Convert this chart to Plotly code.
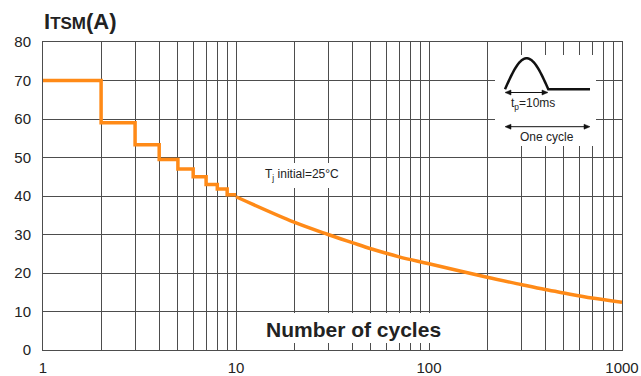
import numpy as np
import plotly.graph_objects as go

# Surge current versus number of cycles (Tj initial = 25 °C)
step_cycles = [1, 2, 3, 4, 5, 6, 7, 8, 9, 10]
step_current = [70, 59, 53.3, 49.5, 47, 45, 43, 41.8, 40.3, 40.3]

curve_cycles = [10, 20, 30, 40, 50, 70, 100, 200, 300, 400, 500, 700, 1000]
curve_current = [39.8, 33.2, 30.0, 27.9, 26.3, 24.2, 22.4, 18.9, 17.0, 15.7, 14.8, 13.5, 12.4]

x_tick_vals = [1, 10, 100, 1000]
x_tick_text = ["1", "10", "100", "1000"]
x_minor_vals = [m * d for d in (1, 10, 100) for m in range(2, 10)]
y_tick_vals = [0, 10, 20, 30, 40, 50, 60, 70, 80]

ORANGE = "#FF8A17"
GRID = "#4d4d4d"
INK = "#111111"
TEXT = "#222222"
FONT = "Liberation Sans, Arial, sans-serif"

W, H = 641, 376
ML, MR, MT, MB = 43, 19, 42, 26
PW, PH = W - ML - MR, H - MT - MB


def px(x):
    return (x - ML) / PW


def py(y):
    return (H - MB - y) / PH


def poly(points):
    return "M " + " L ".join(f"{px(a):.5f},{py(b):.5f}" for a, b in points)


fig = go.Figure()
fig.add_trace(go.Scatter(
    x=step_cycles, y=step_current, mode="lines", line_shape="hv",
    line=dict(color=ORANGE, width=3.5), hoverinfo="skip", showlegend=False))
fig.add_trace(go.Scatter(
    x=curve_cycles, y=curve_current, mode="lines", line_shape="spline",
    line=dict(color=ORANGE, width=3.5), hoverinfo="skip", showlegend=False))

shapes = []
# white backing behind the labels and the pulse sketch, hiding the grid there
for x0, y0, x1, y1 in [(495, 55, 596, 146), (262, 163, 343, 188), (245, 313, 470, 343)]:
    shapes.append(dict(type="rect", xref="paper", yref="paper", layer="above",
                       x0=px(x0), x1=px(x1), y0=py(y1), y1=py(y0),
                       fillcolor="white", line=dict(width=0)))

# half-sine pulse followed by the off period
t = np.linspace(0, np.pi, 40)
sx = 505 + (548.3 - 505) * t / np.pi
sy = 89.3 - 31 * np.sin(t)
pulse = list(zip(sx, sy)) + [(590, 89.3)]
shapes.append(dict(type="path", xref="paper", yref="paper", path=poly(pulse),
                   line=dict(color=INK, width=2.5), layer="above"))


def double_arrow(x0, x1, y):
    out = [dict(type="line", xref="paper", yref="paper", layer="above",
                x0=px(x0 + 2), x1=px(x1 - 2), y0=py(y), y1=py(y),
                line=dict(color=INK, width=1))]
    for tip, back in [(x0, x0 + 6), (x1, x1 - 6)]:
        out.append(dict(type="path", xref="paper", yref="paper", layer="above",
                        path=poly([(tip, y), (back, y - 2.5), (back, y + 2.5)]) + " Z",
                        fillcolor=INK, line=dict(color=INK, width=0.5)))
    return out


shapes += double_arrow(505, 548, 92.5)
shapes += double_arrow(505, 590, 126.7)

annotations = [
    dict(text="<b>I<span style='font-size:17px'>TSM</span>(A)</b>", xref="paper", yref="paper",
         x=px(42), y=py(21), xanchor="left", yanchor="middle", showarrow=False,
         font=dict(family=FONT, size=22, color=TEXT)),
    dict(text="<b>Number of cycles</b>", xref="paper", yref="paper",
         x=px(354), y=py(329), xanchor="center", yanchor="middle", showarrow=False,
         font=dict(family=FONT, size=21, color=TEXT)),
    dict(text="T<sub>j</sub> initial=25°C", xref="paper", yref="paper",
         x=px(302), y=py(175), xanchor="center", yanchor="middle", showarrow=False,
         font=dict(family=FONT, size=12, color=TEXT)),
    dict(text="t<sub>p</sub>=10ms", xref="paper", yref="paper",
         x=px(533), y=py(104), xanchor="center", yanchor="middle", showarrow=False,
         font=dict(family=FONT, size=12, color=TEXT)),
    dict(text="One cycle", xref="paper", yref="paper",
         x=px(547), y=py(137), xanchor="center", yanchor="middle", showarrow=False,
         font=dict(family=FONT, size=12, color=TEXT)),
]

fig.update_layout(
    width=W, height=H,
    margin=dict(l=ML, r=MR, t=MT, b=MB, pad=0, autoexpand=False),
    paper_bgcolor="white", plot_bgcolor="white",
    shapes=shapes, annotations=annotations,
    font=dict(family=FONT, size=15, color=TEXT),
    xaxis=dict(type="log", range=[0, 3], tickvals=x_tick_vals, ticktext=x_tick_text,
               showgrid=True, gridcolor=GRID, gridwidth=1,
               minor=dict(tickvals=x_minor_vals, showgrid=True, gridcolor=GRID, gridwidth=1),
               showline=True, linecolor=GRID, linewidth=1, mirror=True,
               ticks="", ticklabelstandoff=4, zeroline=False, automargin=False,
               tickfont=dict(family=FONT, size=15, color=TEXT)),
    yaxis=dict(range=[0, 80], tickvals=y_tick_vals, showgrid=True, gridcolor=GRID, gridwidth=1,
               showline=True, linecolor=GRID, linewidth=1, mirror=True,
               ticks="", ticklabelstandoff=8, zeroline=False, automargin=False,
               tickfont=dict(family=FONT, size=15, color=TEXT)),
)

fig.write_html("out.html")
